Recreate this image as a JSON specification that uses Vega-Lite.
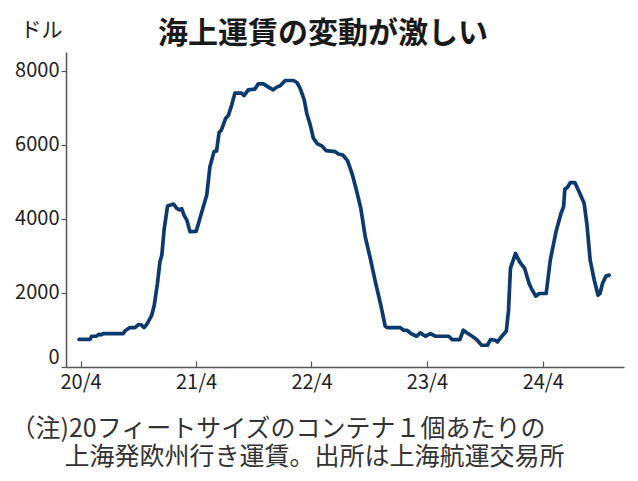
{
  "$schema": "https://vega.github.io/schema/vega-lite/v6.json",
  "width": 558,
  "height": 315,
  "autosize": {"type": "none"},
  "padding": {"left": 66, "top": 52, "right": 14, "bottom": 114},
  "background": "white",
  "title": {
    "text": "海上運賃の変動が激しい",
    "anchor": "start",
    "frame": "group",
    "dx": 92,
    "dy": 36,
    "offset": 6,
    "fontSize": 30,
    "fontWeight": "bold",
    "font": "Noto Sans CJK JP",
    "color": "#1a1a1a"
  },
  "data": {
    "values": [
      {"date": "2020-03-27", "value": 748},
      {"date": "2020-05-01", "value": 748},
      {"date": "2020-05-06", "value": 830},
      {"date": "2020-05-20", "value": 830},
      {"date": "2020-05-30", "value": 884},
      {"date": "2020-06-04", "value": 866},
      {"date": "2020-06-12", "value": 902},
      {"date": "2020-08-14", "value": 902},
      {"date": "2020-08-19", "value": 973},
      {"date": "2020-09-04", "value": 1065},
      {"date": "2020-09-20", "value": 1065},
      {"date": "2020-10-01", "value": 1146},
      {"date": "2020-10-09", "value": 1140},
      {"date": "2020-10-19", "value": 1065},
      {"date": "2020-10-29", "value": 1173},
      {"date": "2020-11-12", "value": 1397},
      {"date": "2020-11-20", "value": 1668},
      {"date": "2020-11-30", "value": 2254},
      {"date": "2020-12-08", "value": 2838},
      {"date": "2020-12-14", "value": 3019},
      {"date": "2020-12-21", "value": 3695},
      {"date": "2021-01-01", "value": 4344},
      {"date": "2021-01-20", "value": 4398},
      {"date": "2021-01-30", "value": 4281},
      {"date": "2021-02-08", "value": 4240},
      {"date": "2021-02-15", "value": 4270},
      {"date": "2021-02-22", "value": 4100},
      {"date": "2021-03-03", "value": 3965},
      {"date": "2021-03-13", "value": 3649},
      {"date": "2021-04-01", "value": 3660},
      {"date": "2021-04-09", "value": 3876},
      {"date": "2021-04-24", "value": 4325},
      {"date": "2021-05-05", "value": 4641},
      {"date": "2021-05-15", "value": 5406},
      {"date": "2021-05-28", "value": 5812},
      {"date": "2021-06-05", "value": 5830},
      {"date": "2021-06-13", "value": 6325},
      {"date": "2021-06-20", "value": 6390},
      {"date": "2021-07-04", "value": 6714},
      {"date": "2021-07-12", "value": 6785},
      {"date": "2021-07-23", "value": 7074},
      {"date": "2021-08-02", "value": 7390},
      {"date": "2021-08-23", "value": 7390},
      {"date": "2021-08-31", "value": 7325},
      {"date": "2021-09-13", "value": 7479},
      {"date": "2021-10-04", "value": 7498},
      {"date": "2021-10-15", "value": 7641},
      {"date": "2021-10-31", "value": 7641},
      {"date": "2021-11-16", "value": 7552},
      {"date": "2021-12-01", "value": 7479},
      {"date": "2021-12-12", "value": 7552},
      {"date": "2021-12-23", "value": 7587},
      {"date": "2022-01-08", "value": 7731},
      {"date": "2022-02-03", "value": 7731},
      {"date": "2022-02-14", "value": 7677},
      {"date": "2022-02-24", "value": 7525},
      {"date": "2022-03-09", "value": 7209},
      {"date": "2022-03-17", "value": 6849},
      {"date": "2022-03-28", "value": 6533},
      {"date": "2022-04-07", "value": 6174},
      {"date": "2022-04-20", "value": 6020},
      {"date": "2022-05-04", "value": 5966},
      {"date": "2022-05-17", "value": 5839},
      {"date": "2022-06-15", "value": 5812},
      {"date": "2022-06-25", "value": 5749},
      {"date": "2022-07-09", "value": 5722},
      {"date": "2022-07-24", "value": 5568},
      {"date": "2022-08-07", "value": 5227},
      {"date": "2022-08-21", "value": 4776},
      {"date": "2022-09-04", "value": 4281},
      {"date": "2022-09-18", "value": 3514},
      {"date": "2022-10-04", "value": 2930},
      {"date": "2022-10-20", "value": 2298},
      {"date": "2022-11-05", "value": 1714},
      {"date": "2022-11-20", "value": 1100},
      {"date": "2022-11-26", "value": 1065},
      {"date": "2023-01-07", "value": 1065},
      {"date": "2023-01-17", "value": 992},
      {"date": "2023-01-29", "value": 986},
      {"date": "2023-02-10", "value": 902},
      {"date": "2023-02-27", "value": 830},
      {"date": "2023-03-11", "value": 920},
      {"date": "2023-03-27", "value": 830},
      {"date": "2023-04-12", "value": 902},
      {"date": "2023-04-28", "value": 830},
      {"date": "2023-06-09", "value": 830},
      {"date": "2023-06-20", "value": 740},
      {"date": "2023-07-14", "value": 740},
      {"date": "2023-07-25", "value": 992},
      {"date": "2023-08-06", "value": 919},
      {"date": "2023-08-22", "value": 830},
      {"date": "2023-09-05", "value": 740},
      {"date": "2023-09-21", "value": 587},
      {"date": "2023-10-09", "value": 587},
      {"date": "2023-10-19", "value": 740},
      {"date": "2023-11-04", "value": 721},
      {"date": "2023-11-10", "value": 676},
      {"date": "2023-11-24", "value": 830},
      {"date": "2023-12-08", "value": 973},
      {"date": "2023-12-15", "value": 1533},
      {"date": "2023-12-21", "value": 2659},
      {"date": "2024-01-06", "value": 3065},
      {"date": "2024-01-19", "value": 2838},
      {"date": "2024-02-04", "value": 2659},
      {"date": "2024-02-18", "value": 2254},
      {"date": "2024-02-28", "value": 2073},
      {"date": "2024-03-10", "value": 1911},
      {"date": "2024-03-21", "value": 1984},
      {"date": "2024-04-12", "value": 1984},
      {"date": "2024-04-25", "value": 2884},
      {"date": "2024-05-13", "value": 3649},
      {"date": "2024-05-29", "value": 4146},
      {"date": "2024-06-06", "value": 4325},
      {"date": "2024-06-10", "value": 4795},
      {"date": "2024-06-19", "value": 4856},
      {"date": "2024-06-27", "value": 4974},
      {"date": "2024-07-12", "value": 4974},
      {"date": "2024-07-25", "value": 4730},
      {"date": "2024-08-10", "value": 4416},
      {"date": "2024-08-19", "value": 3830},
      {"date": "2024-08-29", "value": 2884},
      {"date": "2024-09-11", "value": 2343},
      {"date": "2024-09-23", "value": 1938},
      {"date": "2024-09-29", "value": 1984},
      {"date": "2024-10-07", "value": 2254},
      {"date": "2024-10-18", "value": 2452},
      {"date": "2024-10-28", "value": 2479}
    ]
  },
  "mark": {"type": "line", "color": "#0c3a6e", "strokeWidth": 3.7, "strokeJoin": "round", "strokeCap": "round"},
  "encoding": {
    "x": {
      "field": "date",
      "type": "temporal",
      "scale": {"domain": [{"year": 2020, "month": 2, "date": 15}, {"year": 2024, "month": 12, "date": 14}]},
      "axis": {
        "values": [
          {"year": 2020, "month": 4, "date": 1},
          {"year": 2021, "month": 4, "date": 1},
          {"year": 2022, "month": 4, "date": 1},
          {"year": 2023, "month": 4, "date": 1},
          {"year": 2024, "month": 4, "date": 1}
        ],
        "format": "%y/%-m",
        "grid": false,
        "domainColor": "#555",
        "domainWidth": 1.5,
        "tickColor": "#555",
        "tickWidth": 1.2,
        "tickSize": -6,
        "labelPadding": 11,
        "labelFontSize": 20,
        "labelColor": "#222",
        "labelFont": "Noto Sans CJK JP",
        "title": ["（注)20フィートサイズのコンテナ１個あたりの", "⠀⠀⠀上海発欧州行き運賃。出所は上海航運交易所"],
        "titleFont": "Noto Sans CJK JP",
        "titleFontSize": 25,
        "titleFontWeight": "normal",
        "titleColor": "#333",
        "titleAlign": "left",
        "titleBaseline": "top",
        "titleLineHeight": 28,
        "titleX": -56,
        "titleY": 49,
        "titleAngle": 0
      }
    },
    "y": {
      "field": "value",
      "type": "quantitative",
      "scale": {"domain": [0, 8500], "nice": false},
      "axis": {
        "values": [0, 2000, 4000, 6000, 8000],
        "format": "d",
        "grid": false,
        "domainColor": "#555",
        "domainWidth": 1.5,
        "tickColor": "#555",
        "tickWidth": 1.2,
        "tickSize": 5,
        "labelPadding": 2,
        "labelFlush": true,
        "labelFontSize": 20,
        "labelColor": "#222",
        "labelFont": "Noto Sans CJK JP",
        "title": "ドル",
        "titleFont": "Noto Sans CJK JP",
        "titleFontSize": 21,
        "titleFontWeight": "normal",
        "titleColor": "#222",
        "titleAngle": 0,
        "titleAlign": "left",
        "titleBaseline": "middle",
        "titleX": -46,
        "titleY": -22
      }
    }
  },
  "config": {"view": {"stroke": null}, "font": "Noto Sans CJK JP"}
}
